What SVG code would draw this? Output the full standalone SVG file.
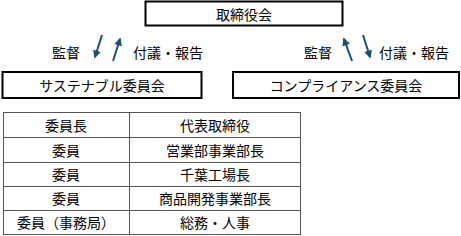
<svg xmlns="http://www.w3.org/2000/svg" width="461" height="236" viewBox="0 0 461 236">
<style>
  text{font-family:"Noto Sans CJK JP","Noto Sans CJK SC",sans-serif;font-size:14px;fill:#000;text-anchor:middle;dominant-baseline:central}
  .box{fill:#fff;stroke:#000;stroke-width:2}
  .arr{stroke:#1b4f72;stroke-width:2;fill:none}
  .tb{stroke:#555;stroke-width:1;fill:none}
</style>
<defs>
  <marker id="ah" viewBox="0 0 10 10" refX="8" refY="5" markerWidth="4" markerHeight="4" orient="auto" markerUnits="strokeWidth">
    <path d="M0,0 L10,5 L0,10 z" fill="#1b4f72"/>
  </marker>
</defs>
<g id="board"><rect class="box" x="145.5" y="1.5" width="197" height="24"/><text x="244" y="14">取締役会</text></g>
<g id="sustainability"><rect class="box" x="2.5" y="72" width="199" height="26"/><text x="102" y="85">サステナブル委員会</text></g>
<g id="compliance"><rect class="box" x="233" y="72" width="226" height="26"/><text x="346" y="85">コンプライアンス委員会</text></g>
<g id="connectors">
  <line class="arr" x1="102" y1="35" x2="95" y2="57" marker-end="url(#ah)"/>
  <line class="arr" x1="113" y1="61" x2="120" y2="39" marker-end="url(#ah)"/>
  <line class="arr" x1="352" y1="61" x2="344" y2="39" marker-end="url(#ah)"/>
  <line class="arr" x1="363" y1="35" x2="370" y2="57" marker-end="url(#ah)"/>
  <text x="66" y="52">監督</text>
  <text x="168" y="52">付議・報告</text>
  <text x="318" y="52">監督</text>
  <text x="414" y="52">付議・報告</text>
</g>
<g id="table">
  <rect class="tb" x="3.5" y="112.5" width="297" height="122"/>
  <line class="tb" x1="129.5" y1="112.5" x2="129.5" y2="234.5"/>
  <line class="tb" x1="3.5" y1="137.5" x2="300.5" y2="137.5"/>
  <line class="tb" x1="3.5" y1="162.5" x2="300.5" y2="162.5"/>
  <line class="tb" x1="3.5" y1="186.5" x2="300.5" y2="186.5"/>
  <line class="tb" x1="3.5" y1="210.5" x2="300.5" y2="210.5"/>
  <text x="66" y="125">委員長</text><text x="215" y="125">代表取締役</text>
  <text x="66" y="150">委員</text><text x="215" y="150">営業部事業部長</text>
  <text x="66" y="174">委員</text><text x="215" y="174">千葉工場長</text>
  <text x="66" y="198">委員</text><text x="215" y="198">商品開発事業部長</text>
  <text x="66" y="222">委員（事務局）</text><text x="215" y="222">総務・人事</text>
</g>
</svg>
